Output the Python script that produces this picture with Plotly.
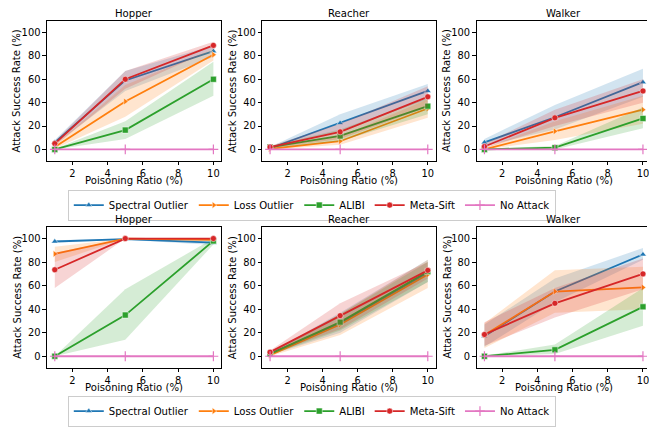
import plotly.graph_objects as go

# ---------------- data ----------------
x_ratio = [1, 5, 10]
methods = ["Spectral Outlier", "Loss Outlier", "ALIBI", "Meta-Sift", "No Attack"]
envs = ["Hopper", "Reacher", "Walker"]
x_ticks = [2, 4, 6, 8, 10]
y_ticks = [0, 20, 40, 60, 80, 100]

# order of rows inside each list: Spectral, Loss, ALIBI, Meta-Sift, No Attack
hopper_top_mean = [[6, 59, 84], [2, 41, 81], [0, 16.5, 60], [5, 60, 89], [0, 0, 0]]
hopper_top_lo = [[4, 50, 79], [0.5, 28, 76], [0, 9, 46], [3, 52, 86], [0, 0, 0]]
hopper_top_hi = [[8, 67, 89], [4, 55, 86], [0.5, 24, 75], [7, 67, 92], [0, 0, 0]]

reacher_top_mean = [[1, 22.5, 50], [0.5, 7, 35], [2, 11.5, 37], [2, 15, 45], [0, 0, 0]]
reacher_top_lo = [[0, 16, 43], [0, 4, 27], [1, 7, 30], [1, 9, 36], [0, 0, 0]]
reacher_top_hi = [[2, 30, 56], [1.5, 11, 43], [3, 17, 44], [3, 22, 54], [0, 0, 0]]

walker_top_mean = [[6, 27.5, 57.5], [0, 15.5, 34], [0, 1.5, 26.5], [2.5, 27, 50], [0, 0, 0]]
walker_top_lo = [[3, 17, 45], [0, 8, 22], [0, 0, 18], [1, 20, 40], [0, 0, 0]]
walker_top_hi = [[9, 38, 69], [1, 24, 46], [0.5, 3, 36], [5, 34, 60], [0, 0, 0]]

hopper_bot_mean = [[97.5, 99.5, 96.5], [87, 100, 99], [0, 35, 98], [73.5, 100, 100], [0, 0, 0]]
hopper_bot_lo = [[96.5, 99, 94.5], [80, 100, 98], [0, 14, 95], [58, 100, 100], [0, 0, 0]]
hopper_bot_hi = [[98.5, 100, 98.5], [93, 100, 100], [0, 57, 100], [88, 100, 100], [0, 0, 0]]

reacher_bot_mean = [[2, 28, 71], [1, 27, 69.5], [2, 29, 72], [3.5, 34.5, 73], [0, 0, 0]]
reacher_bot_lo = [[1, 20, 63], [0, 18, 58], [1, 22, 63], [2, 23, 66], [0, 0, 0]]
reacher_bot_hi = [[3, 37, 82], [2, 36, 82], [3, 36, 80], [5, 45, 80], [0, 0, 0]]

walker_bot_mean = [[17, 55, 86.5], [18, 55, 58.5], [0, 5.5, 42], [18.5, 45, 70], [0, 0, 0]]
walker_bot_lo = [[8, 46, 82], [7, 37, 40], [0, 2, 26], [9, 33, 57], [0, 0, 0]]
walker_bot_hi = [[27, 66, 92], [28, 73, 76], [0.5, 10, 58], [29, 58, 83], [0, 0, 0]]

# ---------------- styles ----------------
W, H = 649, 427
colors = ["#1f77b4", "#ff7f0e", "#2ca02c", "#d62728", "#e377c2"]
fills = ["rgba(31,119,180,0.2)", "rgba(255,127,14,0.2)", "rgba(44,160,44,0.2)",
         "rgba(214,39,40,0.2)", "rgba(227,119,194,0.2)"]
symbols = ["triangle-up", "triangle-right", "square", "circle", "cross-thin"]
FONT = "DejaVu Sans"
FS = 10.1
TFS = 9.9

panels = [
    (hopper_top_mean, hopper_top_lo, hopper_top_hi),
    (reacher_top_mean, reacher_top_lo, reacher_top_hi),
    (walker_top_mean, walker_top_lo, walker_top_hi),
    (hopper_bot_mean, hopper_bot_lo, hopper_bot_hi),
    (reacher_bot_mean, reacher_bot_lo, reacher_bot_hi),
    (walker_bot_mean, walker_bot_lo, walker_bot_hi),
]

# panel frames in pixels (left, right, top, bottom)
col_px = [(47, 222), (263, 437), (478, 649)]
row_px = [(22, 167), (236, 382)]
x_ranges = [[0.55, 10.45], [0.55, 10.45], [0.55, 10.23]]
title_cx = [134.5, 350, 565.5]

fig = go.Figure()
layout = dict(
    width=W, height=H, margin=dict(l=0, r=0, t=0, b=0),
    paper_bgcolor="white", plot_bgcolor="white",
    font=dict(family=FONT, size=FS, color="black"),
)

annotations = []
for p, (mean, lo, hi) in enumerate(panels):
    r, c = divmod(p, 3)
    ax = "" if p == 0 else str(p + 1)
    xref, yref = "x" + ax, "y" + ax
    legend_name = "legend" if r == 0 else "legend2"
    for m in range(len(methods)):
        fig.add_trace(go.Scatter(
            x=x_ratio, y=lo[m], xaxis=xref, yaxis=yref, mode="lines",
            line=dict(width=0, color=colors[m]), showlegend=False, hoverinfo="skip"))
        fig.add_trace(go.Scatter(
            x=x_ratio, y=hi[m], xaxis=xref, yaxis=yref, mode="lines",
            line=dict(width=0, color=colors[m]), fill="tonexty", fillcolor=fills[m],
            showlegend=False, hoverinfo="skip"))
        is_plus = symbols[m] == "cross-thin"
        fig.add_trace(go.Scatter(
            x=x_ratio, y=mean[m], xaxis=xref, yaxis=yref, mode="lines+markers",
            name=methods[m], legend=legend_name, showlegend=(c == 0),
            line=dict(color=colors[m], width=1.8),
            marker=dict(symbol=symbols[m], size=7 if is_plus else 6, color=colors[m],
                        line=dict(color=colors[m] if is_plus else "white",
                                  width=1.2 if is_plus else 0.5))))
    (l, rr), (t, b) = col_px[c], row_px[r]
    axis_common = dict(showline=True, linecolor="black", linewidth=0.8,
                       ticks="outside", ticklen=3.5, tickwidth=0.8, tickcolor="black",
                       showgrid=False, zeroline=False, ticklabeloverflow="allow",
                       tickfont=dict(family=FONT, size=TFS, color="black"))
    layout["xaxis" + ax] = dict(domain=[l / W, rr / W], range=x_ranges[c], mirror=True,
                                tickvals=x_ticks, anchor=yref, **axis_common)
    layout["yaxis" + ax] = dict(domain=[1 - b / H, 1 - t / H], range=[-9.7, 109.7],
                                mirror=(c != 2),
                                tickvals=y_ticks, anchor=xref, **axis_common)
    # subplot title
    annotations.append(dict(text=envs[c], x=title_cx[c] / W, y=1 - (t - 8) / H,
                            xref="paper", yref="paper", showarrow=False,
                            xanchor="center", yanchor="middle",
                            font=dict(family=FONT, size=FS, color="black")))
    # x label
    annotations.append(dict(text="Poisoning Ratio (%)", x=title_cx[c] / W, y=1 - (b + 21) / H,
                            xref="paper", yref="paper", showarrow=False,
                            xanchor="center", yanchor="middle",
                            font=dict(family=FONT, size=FS, color="black")))
    # y label
    annotations.append(dict(text="Attack Success Rate (%)", x=(l - 29.5) / W,
                            y=1 - ((t + b) / 2) / H, xref="paper", yref="paper",
                            showarrow=False, textangle=-90,
                            xanchor="center", yanchor="middle",
                            font=dict(family=FONT, size=FS, color="black")))

legend_common = dict(orientation="h", xanchor="left", yanchor="top", traceorder="normal",
                     bgcolor="rgba(255,255,255,0.8)", bordercolor="#cccccc", borderwidth=1,
                     font=dict(family=FONT, size=FS, color="black"), itemwidth=30)
layout["legend"] = dict(x=68 / W, y=1 - 197 / H, **legend_common)
layout["legend2"] = dict(x=68 / W, y=1 - 411 / H, **legend_common)
layout["annotations"] = annotations
fig.update_layout(**layout)

fig.write_html(
    "out.html",
    config={"displayModeBar": False},
    post_script="document.body.style.margin='0';document.body.style.padding='0';"
                "document.body.style.overflow='hidden';",
)
